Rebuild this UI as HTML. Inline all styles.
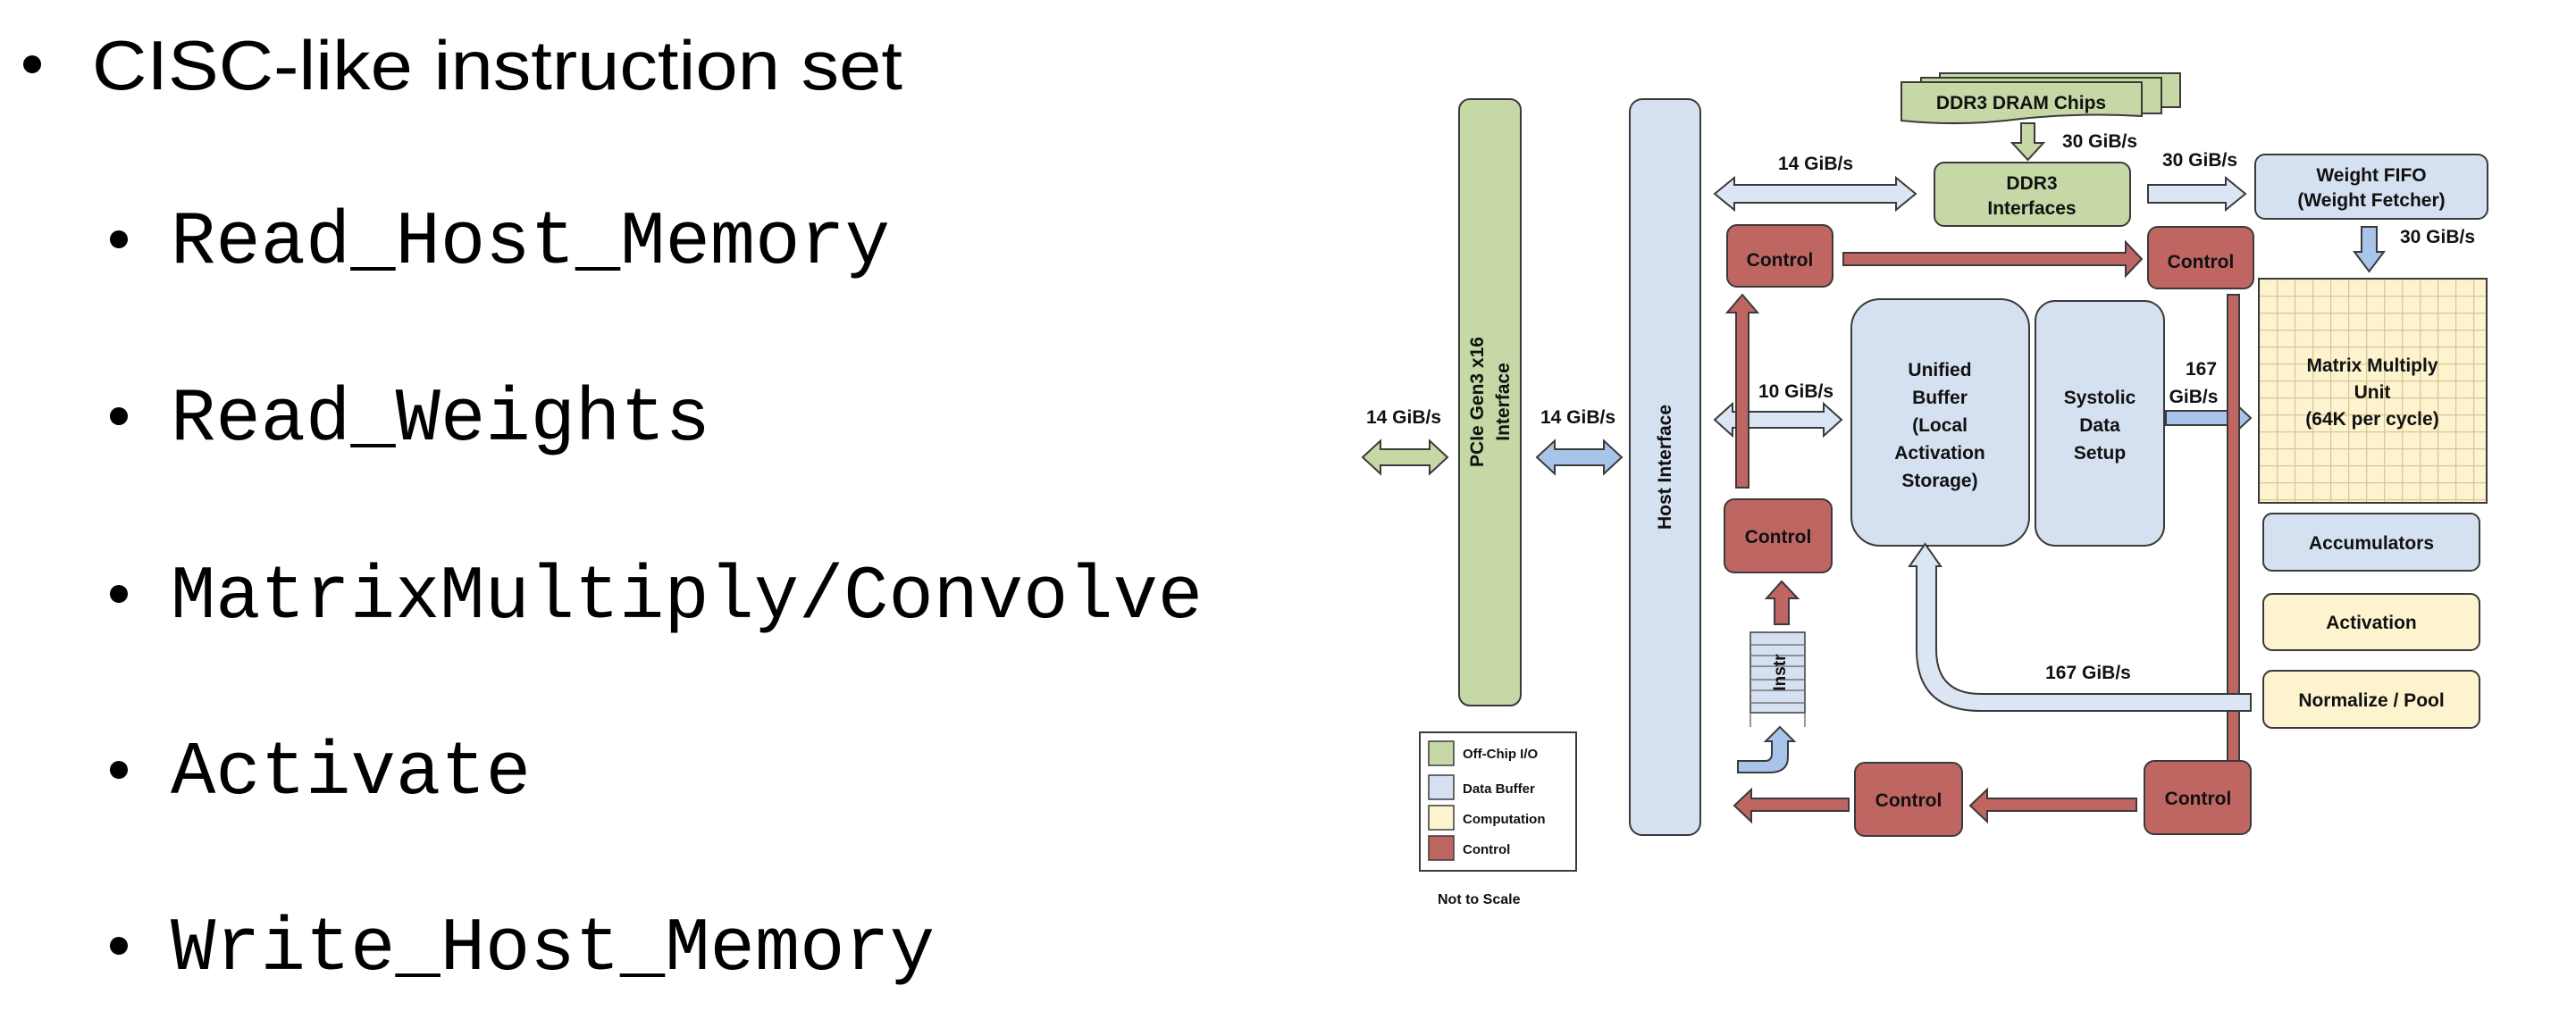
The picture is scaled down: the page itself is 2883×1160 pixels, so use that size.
<!DOCTYPE html>
<html><head><meta charset="utf-8"><style>
html,body{margin:0;padding:0;background:#fff;}
svg{display:block;}
.d{font-family:"Liberation Sans Narrow","Liberation Sans",sans-serif;font-weight:bold;fill:#111;}
.w{font-family:"Liberation Sans",sans-serif;font-weight:bold;fill:#111;}
</style></head><body>
<svg width="2883" height="1160" viewBox="0 0 2883 1160" xmlns="http://www.w3.org/2000/svg">
<defs>
<pattern id="grid" x="2528" y="312" width="20" height="19" patternUnits="userSpaceOnUse">
<rect width="20" height="19" fill="#fdf3cf"/>
<path d="M0 0.5H20M0.5 0V19" stroke="#d6c796" stroke-width="1.5"/>
</pattern>
</defs>
<circle cx="36" cy="72" r="10" fill="#000"/>
<text x="103" y="100" font-family="Liberation Sans, sans-serif" font-size="78" textLength="907" lengthAdjust="spacingAndGlyphs" fill="#000">CISC-like instruction set</text>
<g font-family="Liberation Mono, monospace" font-size="84" fill="#000">
<circle cx="133" cy="268" r="10"/><text x="191" y="294" textLength="805" lengthAdjust="spacingAndGlyphs">Read_Host_Memory</text>
<circle cx="133" cy="466" r="10"/><text x="191" y="492" textLength="604" lengthAdjust="spacingAndGlyphs">Read_Weights</text>
<circle cx="133" cy="665" r="10"/><text x="191" y="691" textLength="1155" lengthAdjust="spacingAndGlyphs">MatrixMultiply/Convolve</text>
<circle cx="133" cy="862" r="10"/><text x="191" y="888" textLength="403" lengthAdjust="spacingAndGlyphs">Activate</text>
<circle cx="133" cy="1059" r="10"/><text x="191" y="1085" textLength="855" lengthAdjust="spacingAndGlyphs">Write_Host_Memory</text>
</g>

<g stroke="#3a3a3a" stroke-width="2">
<rect x="1633" y="111" width="69" height="679" rx="12" fill="#c5d8a6"/>
<rect x="1824" y="111" width="79" height="824" rx="14" fill="#d5e0f1"/>
<rect x="2171" y="82" width="269" height="38" fill="#c5d8a6"/>
<rect x="2150" y="87" width="269" height="40" fill="#c5d8a6"/>
<path d="M2128,92 L2397,92 L2397,130 Q2330,126 2262,133 Q2195,142 2128,135 Z" fill="#c5d8a6"/>
<rect x="2165" y="182" width="219" height="71" rx="11" fill="#c5d8a6"/>
<rect x="2524" y="173" width="260" height="72" rx="11" fill="#d5e0f1"/>
<rect x="2528" y="312" width="255" height="251" fill="url(#grid)"/>
<rect x="2072" y="335" width="199" height="276" rx="32" fill="#d5e0f1"/>
<rect x="2278" y="337" width="144" height="274" rx="22" fill="#d5e0f1"/>
<rect x="2533" y="575" width="242" height="64" rx="10" fill="#d5e0f1"/>
<rect x="2533" y="665" width="242" height="63" rx="10" fill="#fdf3cf"/>
<rect x="2533" y="751" width="242" height="64" rx="10" fill="#fdf3cf"/>
<polygon points="1525,512 1545,493.5 1545,503 1600,503 1600,493.5 1620,512 1600,530.5 1600,521 1545,521 1545,530.5" fill="#c5d8a6"/>
<polygon points="1720,512 1740,493.5 1740,503 1795,503 1795,493.5 1815,512 1795,530.5 1795,521 1740,521 1740,530.5" fill="#a9c4ea"/>
<polygon points="1919,217 1941,199 1941,207 2122,207 2122,199 2144,217 2122,235 2122,227 1941,227 1941,235" fill="#dbe5f4"/>
<polygon points="2404,207 2491,207 2491,199 2513,217 2491,235 2491,227 2404,227" fill="#dbe5f4"/>
<polygon points="1919,470 1939,452 1939,461 2041,461 2041,452 2061,470 2041,488 2041,479 1939,479 1939,488" fill="#dbe5f4"/>
<polygon points="2424,460 2503,460 2503,453 2519,468 2503,483 2503,476 2424,476" fill="#a9c4ea"/>
<polygon points="2262,138 2277,138 2277,160 2287,160 2269.5,179 2252,160 2262,160" fill="#c5d8a6"/>
<polygon points="2643,254 2660,254 2660,282 2668,282 2651.5,304 2635,282 2643,282" fill="#a9c4ea"/>
<rect x="2493" y="330" width="13" height="523" fill="#bf6663"/>
<path d="M2519,777 L2217,777 Q2167,777 2167,727 L2167,634 L2172,634 L2154.5,609 L2137,634 L2145,634 L2145,727 Q2145,796 2217,796 L2519,796 Z" fill="#dbe5f4"/>
<polygon points="2063,283 2379,283 2379,271 2397,290 2379,309 2379,297 2063,297" fill="#bf6663"/>
<polygon points="1950,330 1967,350 1957,350 1957,546 1943,546 1943,350 1933,350" fill="#bf6663"/>
<polygon points="1994,651 2012,670 2002,670 2002,699 1986,699 1986,670 1977,670" fill="#bf6663"/>
<polygon points="1941,902 1960,884 1960,894 2069,894 2069,908 1960,908 1960,920" fill="#bf6663"/>
<polygon points="2205,902 2224,884 2224,894 2391,894 2391,908 2224,908 2224,920" fill="#bf6663"/>
<rect x="1933" y="252" width="118" height="69" rx="11" fill="#bf6663"/>
<rect x="2404" y="254" width="118" height="69" rx="11" fill="#bf6663"/>
<rect x="1930" y="559" width="120" height="82" rx="11" fill="#bf6663"/>
<rect x="2076" y="854" width="120" height="82" rx="11" fill="#bf6663"/>
<rect x="2400" y="852" width="119" height="82" rx="11" fill="#bf6663"/>
<rect x="1959" y="708" width="61" height="90" fill="#d5e0f1" stroke-width="1.5"/>
<path d="M1959,798 V814 M2020,798 V814 M1959,722H2020 M1959,734H2020 M1959,746H2020 M1959,761H2020 M1959,773H2020 M1959,787H2020" fill="none" stroke="#777" stroke-width="1.5"/>
<path d="M1945,852 L1975,852 Q1983,852 1983,844 L1983,830 L1976,830 L1992,814 L2008,830 L2001,830 L2001,848 Q2001,865 1980,865 L1945,865 Z" fill="#a9c4ea"/>
<rect x="1589" y="820" width="175" height="155" fill="#fff"/>
<rect x="1599" y="830" width="28" height="27" fill="#c5d8a6" stroke-width="1.5"/>
<rect x="1599" y="868" width="28" height="27" fill="#d5e0f1" stroke-width="1.5"/>
<rect x="1599" y="902" width="28" height="27" fill="#fdf3cf" stroke-width="1.5"/>
<rect x="1599" y="936" width="28" height="27" fill="#bf6663" stroke-width="1.5"/>
</g>

<g class="d" font-size="21" text-anchor="middle">
<text x="2262" y="122">DDR3 DRAM Chips</text>
<text x="2350" y="165">30 GiB/s</text>
<text x="2032" y="190">14 GiB/s</text>
<text x="2462" y="186">30 GiB/s</text>
<text x="2274" y="212">DDR3</text><text x="2274" y="240">Interfaces</text>
<text x="2654" y="203">Weight FIFO</text><text x="2654" y="231">(Weight Fetcher)</text>
<text x="2728" y="272">30 GiB/s</text>
<text x="1992" y="298">Control</text>
<text x="2463" y="300">Control</text>
<text x="1571" y="474">14 GiB/s</text>
<text x="1766" y="474">14 GiB/s</text>
<text x="2010" y="445">10 GiB/s</text>
<text x="2171" y="421">Unified</text><text x="2171" y="452">Buffer</text><text x="2171" y="483">(Local</text><text x="2171" y="514">Activation</text><text x="2171" y="545">Storage)</text>
<text x="2350" y="452">Systolic</text><text x="2350" y="483">Data</text><text x="2350" y="514">Setup</text>
<text x="2446" y="420" text-anchor="start">167</text>
<text x="2455" y="451">GiB/s</text>
<text x="2655" y="416">Matrix Multiply</text><text x="2655" y="446">Unit</text><text x="2655" y="476">(64K per cycle)</text>
<text x="1990" y="608">Control</text>
<text x="2654" y="615">Accumulators</text>
<text x="2654" y="704">Activation</text>
<text x="2337" y="760">167 GiB/s</text>
<text x="2654" y="791">Normalize / Pool</text>
<text x="2136" y="903">Control</text>
<text x="2460" y="901">Control</text>
</g>
<g class="w" font-size="21" text-anchor="middle">
<text transform="translate(1870,523) rotate(-90)">Host Interface</text>
<text transform="translate(1660,450) rotate(-90)">PCIe Gen3 x16</text>
<text transform="translate(1689,450) rotate(-90)">Interface</text>
<text transform="translate(1998,753) rotate(-90)" font-size="19">Instr</text>
</g>
<g class="d" font-size="15">
<text x="1637" y="849">Off-Chip I/O</text>
<text x="1637" y="888">Data Buffer</text>
<text x="1637" y="922">Computation</text>
<text x="1637" y="956">Control</text>
<text x="1609" y="1012" font-size="16">Not to Scale</text>
</g>
</svg>
</body></html>
